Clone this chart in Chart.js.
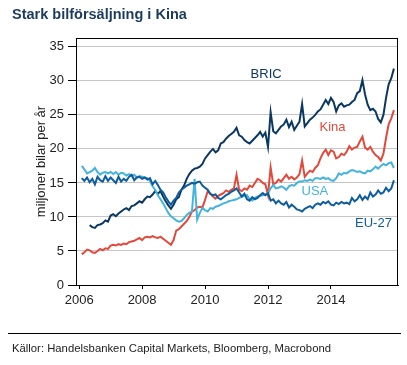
<!DOCTYPE html>
<html>
<head>
<meta charset="utf-8">
<script src="https://cdn.jsdelivr.net/npm/chart.js@4.4.1/dist/chart.umd.min.js"></script>
<style>
  body { margin: 0; background: #fff; }
  #wrap { position: relative; width: 407px; height: 365px; font-family: "Liberation Sans", Arial, sans-serif; }
  #title { position: absolute; left: 12px; top: 6px; font-weight: bold; font-size: 14.5px; color: #1b3a5c; }
  #rule { position: absolute; left: 8px; top: 333px; width: 393px; height: 0; border-top: 1.5px solid #000; }
  #source { position: absolute; left: 12px; top: 342px; font-size: 11.3px; color: #222; }
  canvas { position: absolute; left: 0; top: 0; }
</style>
</head>
<body>
<div id="wrap">
  <canvas id="myChart" width="407" height="365"></canvas>
  <div id="title">Stark bilförsäljning i Kina</div>
  <div id="rule"></div>
  <div id="source">Källor: Handelsbanken Capital Markets, Bloomberg, Macrobond</div>
</div>
<script>
// monthly data, jan 2006 - dec 2015, millions of cars per year (annualised)
const years = [2006, 2007, 2008, 2009, 2010, 2011, 2012, 2013, 2014, 2015];
const yearTicks = [2006, 2008, 2010, 2012, 2014];
const valueTicks = [0, 5, 10, 15, 20, 25, 30, 35];

const bric = [
  null, null, null, 8.8, 8.5, 8.4, 8.8, 8.9, 9.1, 9.5, 9.3, 10.2,
  10.4, 10.1, 10.5, 10.8, 11.1, 11.3, 11.0, 11.6, 11.7, 12.0, 12.3, 12.1,
  12.6, 13.0, 12.9, 13.3, 13.8, 13.4, 13.8, 13.0, 12.3, 11.7, 11.2, 11.8,
  12.6, 12.9, 14.0, 14.6, 15.6, 16.3, 16.8, 17.1, 17.2, 17.4, 17.8, 18.6,
  19.1, 19.6, 20.0, 19.5, 19.8, 20.8, 21.0, 21.5, 21.9, 22.2, 22.5, 23.1,
  22.0, 21.8, 21.3, 21.0, 20.8, 21.2, 21.6, 22.0, 22.5, 21.8, 22.4, 20.3,
  25.4, 22.6, 22.3, 22.8, 23.3, 23.6, 24.3, 23.2, 24.0, 22.8, 23.4, 24.0,
  26.6, 23.3, 23.8, 24.3, 24.6, 25.0, 25.5, 25.8, 26.5, 27.2, 26.6, 27.5,
  26.9, 25.5, 26.4, 26.7, 26.2, 26.4, 26.5, 26.9, 27.2, 28.2, 28.5, 30.1,
  28.0, 26.5, 25.7, 25.9, 25.5, 24.4, 23.9, 25.0, 27.5, 29.5, 30.4, 31.8
];
const kina = [
  4.5, 4.8, 5.2, 5.1, 4.8, 4.7, 5.0, 5.3, 5.1, 5.4, 5.3, 5.8,
  5.9, 5.8, 6.0, 5.9, 6.1, 6.0, 6.3, 6.4, 6.5, 6.7, 6.9, 6.6,
  7.0, 7.1, 7.0, 7.2, 7.0, 6.9, 7.1, 6.8, 6.5, 6.2, 5.9, 6.6,
  8.0, 8.2, 8.6, 9.0, 9.4, 10.0, 10.8, 11.0, 11.4, 11.5, 11.4, 12.5,
  13.8, 13.4, 13.0, 12.7, 13.1, 13.3, 13.5, 13.9, 13.7, 14.0, 14.2, 16.2,
  14.0, 13.8, 14.2, 14.0, 14.6, 14.4, 15.0, 15.6, 15.4, 15.0, 14.8, 13.2,
  17.3, 14.8, 15.0, 15.5, 15.2, 15.7, 16.2, 15.6, 15.9, 15.5, 15.8, 16.3,
  18.3, 15.9, 16.4, 16.8, 16.6, 17.2, 17.6, 18.6, 19.4, 19.9, 19.1, 19.8,
  19.6, 18.6, 18.8, 19.3, 19.1, 19.6, 20.4, 19.9, 20.2, 20.3, 21.1, 21.8,
  20.2, 19.9, 20.3, 19.6, 19.1, 18.8, 18.3, 19.3, 21.6, 23.6, 24.5, 25.7
];
const usa = [
  17.5, 17.0, 16.4, 16.6, 16.8, 17.2, 16.6, 16.2, 16.5, 16.6, 16.4, 16.6,
  16.3, 16.6, 16.2, 16.5, 16.4, 16.1, 16.3, 16.0, 16.2, 15.8, 16.0, 15.9,
  15.8, 15.7, 15.3, 14.5, 14.0, 13.2, 12.6, 12.0, 11.3, 10.6, 10.1, 9.8,
  9.5, 9.3, 9.4, 9.8, 10.3, 10.6, 10.8, 15.6, 9.6, 10.6, 11.3, 11.0,
  10.8, 11.3, 11.2, 11.5, 11.6, 11.8, 12.0, 12.1, 12.3, 12.4, 12.5, 12.6,
  12.8, 13.0, 13.1, 13.2, 12.6, 12.4, 12.8, 13.0, 13.1, 13.2, 13.3, 13.5,
  14.2, 14.7, 14.2, 14.3, 14.5, 14.3, 14.0, 14.5, 14.7, 14.6, 15.0, 15.2,
  15.2, 15.4, 15.3, 15.5, 15.3, 15.7, 15.7, 15.6, 15.8, 15.6, 15.7, 15.4,
  15.3, 15.7, 16.4, 16.2, 16.5, 16.4, 16.7, 16.9, 16.8, 16.6, 16.7, 16.5,
  16.4, 16.8, 16.7, 17.0, 17.4, 17.1, 17.5, 17.8, 17.6, 17.9, 18.0, 17.2
];
const eu27 = [
  15.7, 15.3, 15.8, 15.1, 15.6, 14.8, 15.9, 15.4, 15.2, 16.0, 15.3, 15.8,
  15.4, 15.0, 15.9, 15.2, 15.6, 15.3, 15.9, 16.2, 15.4, 15.8, 15.9, 15.6,
  15.8, 15.5, 15.7, 14.8, 15.3, 14.7, 14.0, 13.6, 12.9, 12.3, 11.8, 12.4,
  12.8, 13.6, 14.0, 14.3, 14.6, 14.8, 15.0, 14.9, 15.1, 15.2, 14.6, 14.3,
  14.0, 13.4, 13.2, 13.3, 12.8, 12.6, 12.9, 13.2, 13.4, 13.7, 13.9, 14.2,
  13.6, 13.0, 13.4, 12.6, 12.4, 12.9, 12.6, 12.8, 13.2, 13.5, 13.2, 13.5,
  12.4, 12.6, 12.0, 12.4, 12.0, 11.8, 12.2, 11.4, 11.8, 11.5, 11.1, 11.0,
  10.8, 11.2, 11.4, 11.6, 11.3, 11.8, 12.0, 11.8, 12.2, 12.0, 12.3, 11.8,
  11.7, 12.1, 11.9, 12.2, 12.0, 12.1, 11.9, 12.8, 12.3, 12.6, 13.2, 12.5,
  13.0, 12.6, 13.6, 13.0, 13.3, 13.9, 13.4, 13.6, 14.3, 13.8, 14.2, 15.4
];

// series names written inside the plot, placed in data units
const seriesLabels = [
  { text: 'BRIC', x: 2011.94, y: 31.0, color: '#0b3861' },
  { text: 'Kina', x: 2014.05, y: 23.2, color: '#e2493b' },
  { text: 'USA', x: 2013.49, y: 13.7, color: '#45b4dd' },
  { text: 'EU-27', x: 2015.35, y: 9.0, color: '#0d5c9e' }
];

const months = [];
for (let y of years) {
  for (let m = 0; m < 12; m++) months.push(y + (m + 1) / 12);
}
const toPoints = values => values.map((v, i) => ({ x: months[i], y: v }));

Chart.defaults.font.family = '"Liberation Sans", Arial, sans-serif';

const frame = {
  id: 'frame',
  afterDatasetsDraw(chart) {
    const a = chart.chartArea;
    const c = chart.ctx;
    c.save();
    c.strokeStyle = '#000';
    c.lineWidth = 1;
    c.strokeRect(Math.round(a.left) + 0.5, Math.round(a.top) + 0.5,
      Math.round(a.right - a.left) - 1, Math.round(a.bottom - a.top));
    c.font = '13px "Liberation Sans", Arial, sans-serif';
    c.textAlign = 'center';
    c.textBaseline = 'middle';
    for (let l of seriesLabels) {
      c.fillStyle = l.color;
      c.fillText(l.text, chart.scales.x.getPixelForValue(l.x), chart.scales.y.getPixelForValue(l.y));
    }
    c.restore();
  }
};

function line(label, values, color) {
  return {
    label: label,
    data: toPoints(values),
    borderColor: color,
    borderWidth: 2,
    pointRadius: 0,
    tension: 0,
    fill: false,
    spanGaps: false
  };
}

new Chart(document.getElementById('myChart'), {
  type: 'line',
  data: {
    datasets: [
      line('EU-27', eu27, '#0d5c9e'),
      line('USA', usa, '#45b4dd'),
      line('Kina', kina, '#e2493b'),
      line('BRIC', bric, '#0b3861')
    ]
  },
  options: {
    responsive: false,
    animation: false,
    layout: { padding: { left: 30, right: 9, top: 38, bottom: 50 } },
    plugins: { legend: { display: false }, tooltip: { enabled: false } },
    scales: {
      x: {
        type: 'linear',
        min: 2005.9,
        max: 2016.13,
        afterBuildTicks: s => { s.ticks = yearTicks.map(v => ({ value: v })); },
        afterFit: s => { s.height = 30; },
        grid: { drawOnChartArea: false, tickLength: 4, tickColor: '#000' },
        border: { color: '#000' },
        ticks: { color: '#222', font: { size: 13 }, padding: 4, maxRotation: 0, callback: v => String(v) }
      },
      y: {
        min: 0,
        max: 36.3,
        afterBuildTicks: s => { s.ticks = valueTicks.map(v => ({ value: v })); },
        afterFit: s => { s.width = 46; },
        grid: {
          color: ctx => ctx.tick && ctx.tick.value === 0 ? 'rgba(0,0,0,0)' : '#c6c6c6',
          tickColor: '#000',
          tickLength: 8
        },
        border: { color: '#000' },
        ticks: { color: '#222', font: { size: 13 }, padding: 4 },
        title: { display: true, text: 'miljoner bilar per år', color: '#222', font: { size: 13 }, padding: { top: 4, bottom: 4 } }
      }
    }
  },
  plugins: [frame]
});
</script>
</body>
</html>
